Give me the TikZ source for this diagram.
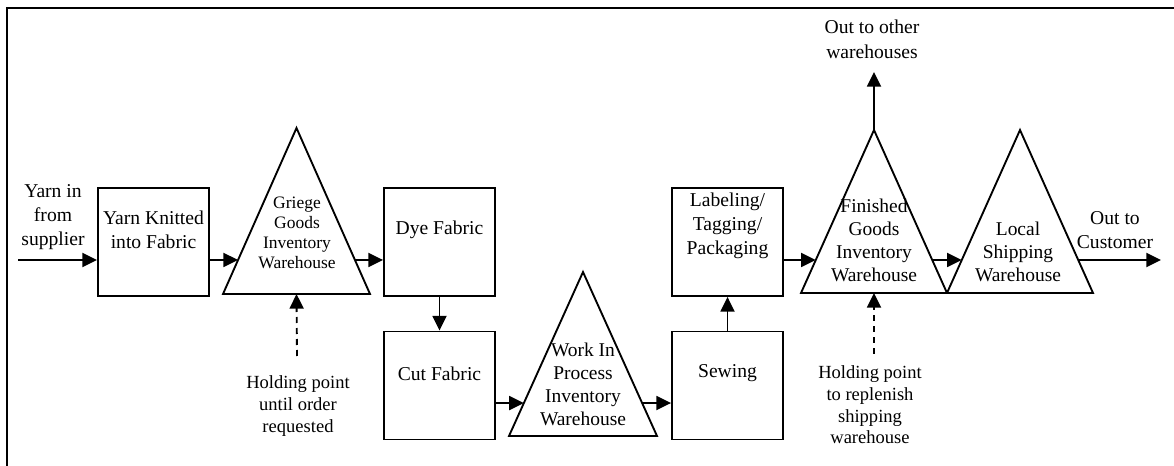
\documentclass[tikz,border=0pt]{standalone}
\usepackage{fontspec}
\setmainfont{Liberation Serif}
\usetikzlibrary{arrows.meta,calc}
\begin{document}
\begin{tikzpicture}[x=0.75pt,y=-0.75pt,
  ln/.style={line width=1.4pt},
  box/.style={draw,ln,minimum width=83.25pt,minimum height=81pt,inner sep=0pt},
  tri/.style={draw,ln,line join=miter},
  arr/.style={ln,-{Triangle[length=11pt,width=10.5pt]}},
  dasharr/.style={arr,dash pattern=on 4.5pt off 3.75pt},
  txt/.style={align=center,inner sep=0pt,font=\fontsize{14.7}{18}\selectfont},
  tsmall/.style={align=center,inner sep=0pt,font=\fontsize{13.1}{15}\selectfont},
  tbig/.style={align=center,inner sep=0pt,font=\fontsize{14.6}{17.2}\selectfont},
  thold/.style={align=center,inner sep=0pt,font=\fontsize{13.9}{16.2}\selectfont},
  tout/.style={align=center,inner sep=0pt,font=\fontsize{14.7}{18.6}\selectfont},
]
\useasboundingbox (0,0) rectangle (1174,466);
% frame
\draw[line width=1.6pt] (7,470) -- (7,8) -- (1180,8);

% row levels
\coordinate (r1) at (0,260);
\coordinate (r2) at (0,403);

% boxes
\node[box,label={[txt,yshift=9pt]center:{Yarn Knitted\\into Fabric}}] (knit) at (153.5,242) {};
\node[box,label={[txt,yshift=9pt]center:{Dye Fabric}}] (dye) at (439.5,242) {};
\node[box,label={[txt,yshift=9pt]center:{Cut Fabric}}] (cut) at (439.5,385.5) {};
\node[box,label={[txt,yshift=9pt]center:{Sewing}}] (sew) at (727.5,385.5) {};
\node[box,label={[txt,yshift=12.5pt]center:{Labeling/\\Tagging/\\Packaging}}] (lab) at (727.5,242) {};

% triangles
\coordinate (gL) at (223,294); \coordinate (gR) at (370,294); \coordinate (gT) at (296.5,128);
\coordinate (wL) at (509,436); \coordinate (wR) at (657,436); \coordinate (wT) at (583,272);
\coordinate (fL) at (801,293); \coordinate (fR) at (947,293); \coordinate (fT) at (874,130);
\coordinate (lL) at (947,293); \coordinate (lR) at (1093,293); \coordinate (lT) at (1020,130);
\draw[tri] (gL) -- (gT) -- (gR) -- cycle;
\draw[tri] (wL) -- (wT) -- (wR) -- cycle;
\draw[tri] (fL) -- (fT) -- (fR) -- cycle;
\draw[tri] (lL) -- (lT) -- (lR) -- cycle;
\coordinate (g-in) at ($(gL)!0.205!(gT)$);  \coordinate (g-out) at ($(gR)!0.205!(gT)$);
\coordinate (w-in) at ($(wL)!0.201!(wT)$);  \coordinate (w-out) at ($(wR)!0.201!(wT)$);
\coordinate (f-in) at ($(fL)!0.2025!(fT)$); \coordinate (f-out) at ($(fR)!0.2025!(fT)$);
\coordinate (l-in) at ($(lL)!0.2025!(lT)$); \coordinate (l-out) at ($(lR)!0.2025!(lT)$);
\coordinate (g-base) at ($(gL)!0.5!(gR)$);
\coordinate (f-base) at ($(fL)!0.5!(fR)$);

% triangle texts
\node[tsmall] (g-txt) at (297,233) {Griege\\Goods\\Inventory\\Warehouse};
\node[tbig] (w-txt) at (583,384) {Work In\\Process\\Inventory\\Warehouse};
\node[tbig] (f-txt) at (874,240.5) {Finished\\Goods\\Inventory\\Warehouse};
\node[tbig] (l-txt) at (1018,252) {Local\\Shipping\\Warehouse};

% free texts
\node[txt] (yarnin) at (53,217) {Yarn in\\from\\supplier};
\node[thold] (hold1) at (298,406) {Holding point\\until order\\requested};
\node[thold] (hold2) at (870,405) {Holding point\\to replenish\\shipping\\warehouse};
\node[tout] (other) at (872,39.5) {Out to other\\warehouses};
\node[txt] (cust) at (1115,230) {Out to\\Customer};

% free ends
\coordinate (in-start) at (18,260);
\coordinate (out-end) at (1161,260);
\coordinate (up-end) at (874,72);
\coordinate (h1-start) at (297,356);
\coordinate (h2-start) at (874,354);

% connectors
\draw[arr] (in-start) -- (knit.west |- r1);
\draw[arr] (knit.east |- r1) -- (g-in);
\draw[arr] (g-out) -- (dye.west |- r1);
\draw[arr] (dye.south) -- (cut.north);
\draw[arr] (cut.east |- r2) -- (w-in);
\draw[arr] (w-out) -- (sew.west |- r2);
\draw[arr] (sew.north) -- (lab.south);
\draw[arr] (lab.east |- r1) -- (f-in);
\draw[arr] (f-out) -- (l-in);
\draw[arr] (l-out) -- (out-end);
\draw[arr] (fT) -- (up-end);
\draw[dasharr] (h1-start) -- (g-base);
\draw[dasharr] (h2-start) -- (f-base);
\end{tikzpicture}
\end{document}
